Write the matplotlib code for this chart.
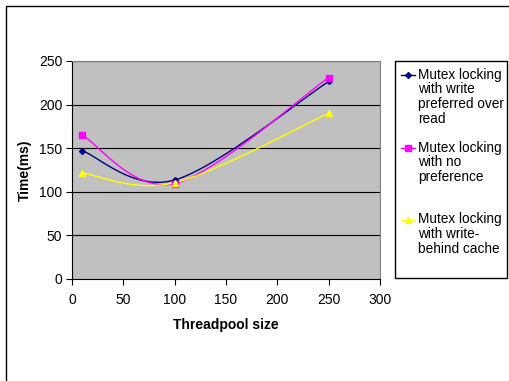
import numpy as np
import matplotlib.pyplot as plt
from matplotlib.patches import Rectangle
from matplotlib.lines import Line2D

plt.rcParams['font.family'] = ['Liberation Sans', 'DejaVu Sans']

threads = [10, 100, 250]
write_pref = [147, 113.5, 226.5]
no_pref = [165, 109.5, 231]
write_behind = [121.5, 110.5, 190]

labels = ["Mutex locking\nwith write\npreferred over\nread",
          "Mutex locking\nwith no\npreference",
          "Mutex locking\nwith write-\nbehind cache"]
colors = ["#000080", "#FF00FF", "#FFFF00"]
markers = ["D", "s", "^"]
msizes = [3, 4, 4.5]


def excel_smooth(x, y, n=60):
    # bezier smoothing similar to excel's smoothed line
    p = np.column_stack([x, y]).astype(float)
    out = [p[:1]]
    for i in range(len(p) - 1):
        pm = p[i - 1] if i > 0 else p[i]
        pn = p[i + 2] if i + 2 < len(p) else p[i + 1]
        c1 = p[i] + (p[i + 1] - pm) / 6
        c2 = p[i + 1] - (pn - p[i]) / 6
        t = np.linspace(0, 1, n)[1:, None]
        seg = ((1 - t) ** 3 * p[i] + 3 * (1 - t) ** 2 * t * c1
               + 3 * (1 - t) * t ** 2 * c2 + t ** 3 * p[i + 1])
        out.append(seg)
    s = np.vstack(out)
    return s[:, 0], s[:, 1]


fig = plt.figure(figsize=(5.1, 3.81), dpi=100)
ax = fig.add_axes([72 / 510, 102 / 381, 308 / 510, 218 / 381])
ax.set_facecolor("#C0C0C0")

series = [write_pref, no_pref, write_behind]
for ys, c, m, ms in zip(series, colors, markers, msizes):
    sx, sy = excel_smooth(threads, ys)
    ax.plot(sx, sy, color=c, lw=1, zorder=3)
    ax.plot(threads, ys, ls="none", marker=m, color=c, ms=ms, zorder=4)

ax.set_xlim(0, 300)
ax.set_ylim(0, 250)
ax.set_xticks(range(0, 301, 50))
ax.set_yticks(range(0, 251, 50))
for v in range(50, 251, 50):
    ax.axhline(v, color="black", lw=0.8, zorder=1)
ax.tick_params(labelsize=10, length=4, width=0.8, direction="out")
ax.tick_params(axis="x", pad=6)
ax.tick_params(axis="y", pad=3)
ax.spines["left"].set_color("black")
ax.spines["bottom"].set_color("black")
ax.spines["top"].set_color("#808080")
ax.spines["right"].set_color("#808080")
ax.set_xlabel("Threadpool size", fontsize=10, fontweight="bold", labelpad=8)
ax.set_ylabel("Time(ms)", fontsize=10, fontweight="bold", labelpad=5)

# outer chart frame
fig.add_artist(Rectangle((6.5 / 510, -0.1), 1.2, 1.1 - 5.5 / 381,
                         transform=fig.transFigure, fill=False,
                         edgecolor="black", lw=1))

# legend box drawn by hand so the handle sits on the first line
W, H = 510, 381
fig.add_artist(Rectangle((395.5 / W, 1 - 278 / H), 112 / W, 217.5 / H,
                         transform=fig.transFigure, facecolor="white",
                         edgecolor="black", lw=1))
ypos = [75, 148, 220]
for lab, c, m, ms, yp in zip(labels, colors, markers, msizes, ypos):
    fy = 1 - yp / H
    fig.add_artist(Line2D([401.5 / W, 415 / W], [fy, fy], color=c, lw=1,
                          transform=fig.transFigure))
    fig.add_artist(Line2D([408.3 / W], [fy], color=c, marker=m, ms=ms,
                          transform=fig.transFigure))
    fig.text(418 / W, fy + 7.5 / H, lab, fontsize=9.8, va="top", ha="left",
             linespacing=1.08, transform=fig.transFigure)

fig.savefig("out.png", dpi=100)
